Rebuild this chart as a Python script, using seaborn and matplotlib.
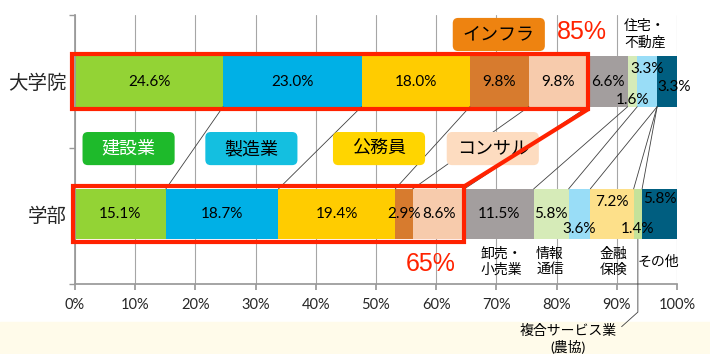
import matplotlib
matplotlib.use("Agg")
import matplotlib.pyplot as plt
from matplotlib.patches import Rectangle, FancyBboxPatch
import numpy as np
import pandas as pd
import seaborn as sns

sns.set_theme(style="white")
plt.rcParams["font.family"] = ["Lato", "Noto Sans CJK JP", "DejaVu Sans"]

groups = ["大学院", "学部"]
sectors = ["建設業", "製造業", "公務員", "インフラ", "コンサル", "卸売・小売業",
           "情報通信", "住宅・不動産", "金融保険", "複合サービス業", "その他"]
grad = [24.6, 23.0, 18.0, 9.8, 9.8, 6.6, 1.6, 3.3, 0.0, 0.0, 3.3]
undergrad = [15.1, 18.7, 19.4, 2.9, 8.6, 11.5, 5.8, 3.6, 7.2, 1.4, 5.8]
infra_share = ["85%", "65%"]
ticks = list(range(0, 101, 10))

colors = ["#93D335", "#00B0E6", "#FFCC00", "#D77B2E", "#F7CBAC", "#A39E9E",
          "#D6EBB8", "#99DDF7", "#FDE08A", "#C5E29A", "#005E80"]

# nudges for labels of thin segments (group index, sector index) -> (dx, dy)
nudge = {(0, 6): (0, 0.14), (0, 7): (0, -0.095), (0, 10): (1.1, 0.04),
         (1, 7): (0, 0.11), (1, 8): (0, -0.09), (1, 9): (0, 0.11), (1, 10): (0, -0.11)}

df = pd.DataFrame({
    "group": np.repeat(groups, len(sectors)),
    "sector": sectors * 2,
    "share": grad + undergrad,
})
df["cum"] = df.groupby("group")["share"].cumsum()
df["start"] = df["cum"] - df["share"]

fig, ax = plt.subplots(figsize=(7.1, 3.54), dpi=100)
fig.subplots_adjust(left=75 / 710, right=677 / 710, top=1 - 15 / 354, bottom=1 - 284 / 354)
fig.patches.append(Rectangle((0, 0), 1, 32 / 354, transform=fig.transFigure,
                             color="#FFFBEA", zorder=-1))

bw = 0.38
for sector, color in reversed(list(zip(sectors, colors))):
    sns.barplot(data=df[df.sector == sector], x="cum", y="group", order=groups,
                color=color, saturation=1, width=bw, errorbar=None, orient="h",
                linewidth=0, ax=ax)

ax.set_xlim(0, 100)
ax.set_ylim(1.528, -0.502)
ax.set_xticks(ticks)
ax.set_xticklabels([f"{t}%" for t in ticks], fontsize=10.5)
ax.set_yticks([0, 1])
ax.set_yticklabels(groups, fontsize=14)
ax.set_yticks([-0.502, 0.5, 1.528], minor=True)
ax.tick_params(axis="y", which="major", length=0, pad=6)
ax.tick_params(axis="y", which="minor", length=4, color="#999999", left=True)
ax.tick_params(axis="x", length=4, color="#999999", bottom=True, pad=6)
ax.set_xlabel("")
ax.set_ylabel("")
ax.grid(axis="x", color="#A6A6A6", linewidth=0.8)
ax.set_axisbelow(True)
for s in ["top", "right"]:
    ax.spines[s].set_visible(False)
for s in ["left", "bottom"]:
    ax.spines[s].set_color("#999999")

# value labels
for gi, g in enumerate(groups):
    sub = df[df.group == g].reset_index(drop=True)
    for si, row in sub.iterrows():
        if row.share <= 0:
            continue
        dx, dy = nudge.get((gi, si), (0, 0))
        ax.text(row.start + row.share / 2 + dx, gi + dy, f"{row.share:.1f}%",
                ha="center", va="center", fontsize=11, color="black", zorder=5)

# leader lines between bars
cg = df[df.group == groups[0]]["cum"].values
cu = df[df.group == groups[1]]["cum"].values
for a, b in zip(cg[:-1], cu[:-1]):
    ax.plot([a, b], [bw / 2, 1 - bw / 2], color="#404040", lw=0.6, zorder=2)

# red outlines around infra-related share
red = "#FF2200"
top_end, bot_end = cg[4], cu[4]
ax.add_patch(Rectangle((-0.5, -bw / 2 - 0.02), top_end + 0.5, bw + 0.04, fill=False,
                       ec=red, lw=3, zorder=6, clip_on=False))
ax.add_patch(Rectangle((-0.3, 1 - bw / 2 - 0.02), bot_end + 0.3, bw + 0.04, fill=False,
                       ec=red, lw=3, zorder=6, clip_on=False))
ax.plot([top_end, bot_end], [bw / 2 + 0.02, 1 - bw / 2 - 0.02], color=red, lw=3,
        zorder=6, solid_capstyle="round")
ax.text(84.2, -0.375, infra_share[0], color=red, fontsize=18, ha="center", va="center",
        family=["Liberation Sans", "DejaVu Sans"])
ax.text(59.1, 1.375, infra_share[1], color=red, fontsize=18, ha="center", va="center",
        family=["Liberation Sans", "DejaVu Sans"])

# sector tag boxes
asp = (1 / 132.5) / (1 / 6.02)
tags = [("建設業", 8.9, 0.506, "#1EBA2B", "white"),
        ("製造業", 29.3, 0.506, "#14BFE0", "black"),
        ("公務員", 50.5, 0.506, "#FFD500", "black"),
        ("コンサル", 69.4, 0.506, "#FDDCC0", "black"),
        ("インフラ", 70.4, -0.355, "#EE8310", "black")]
tw, th = 15.3, 0.25
for label, x, y, fc, tc in tags:
    ax.add_patch(FancyBboxPatch((x - tw / 2, y - th / 2), tw, th,
                                boxstyle="round,pad=0,rounding_size=0.9",
                                mutation_aspect=asp, fc=fc, ec="none", zorder=4))
    ax.text(x, y, label, ha="center", va="center", fontsize=13, color=tc, zorder=5)

# small category labels
small = dict(fontsize=10, ha="center", va="center", linespacing=1.25, color="black")
ax.text(94.7, -0.36, "住宅・\n不動産", **small)
ax.text(70.8, 1.355, "卸売・\n小売業", **small)
ax.text(78.9, 1.355, "情報\n通信", **small)
ax.text(89.4, 1.355, "金融\n保険", **small)
ax.text(96.9, 1.36, "その他", **small)
ax.text(81.9, 1.94, "複合サービス業\n(農協)", clip_on=False, zorder=5, **small)
xm = cu[8] + undergrad[9] / 2
ax.plot([xm, xm, 90.8], [1 + bw / 2, 1.74, 1.85], color="#404040", lw=0.6,
        clip_on=False, zorder=5)

plt.savefig("out.png", dpi=100)
